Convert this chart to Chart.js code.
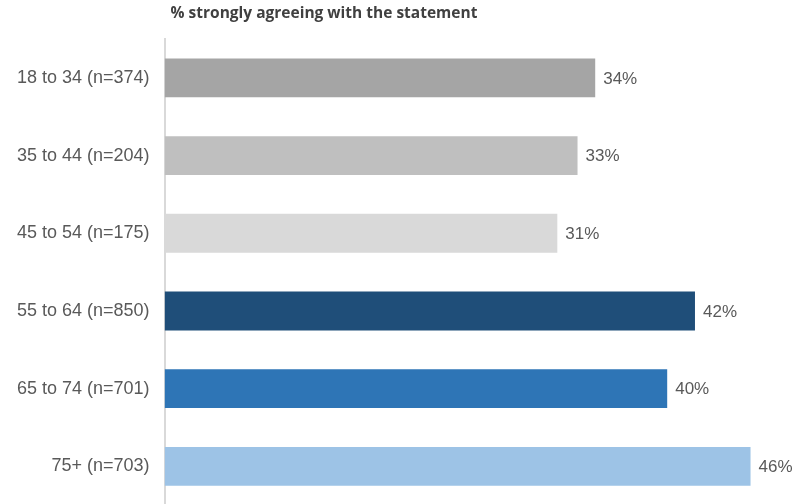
<!DOCTYPE html>
<html>
<head>
<meta charset="utf-8">
<script src="https://cdn.jsdelivr.net/npm/chart.js@4"></script>
<style>
  html, body { margin: 0; padding: 0; background: #fff; overflow: hidden; }
  #wrap { width: 796px; height: 504px; overflow: hidden; }
</style>
</head>
<body>
<div id="wrap"><canvas id="agreeChart" width="796" height="531"></canvas></div>
<script>
const ageGroups = ['18 to 34 (n=374)', '35 to 44 (n=204)', '45 to 54 (n=175)', '55 to 64 (n=850)', '65 to 74 (n=701)', '75+ (n=703)'];
const strongAgree = [34.1, 32.7, 31.1, 42.0, 39.8, 46.4];
const barColors = ['#a5a5a5', '#bfbfbf', '#d9d9d9', '#1f4e79', '#2e75b6', '#9dc3e6'];
const chartTitle = '% strongly agreeing with the statement';

// value labels at the end of each bar
const valueLabels = {
    id: 'valueLabels',
    afterDatasetsDraw(chart) {
        const ctx = chart.ctx;
        const meta = chart.getDatasetMeta(0);
        ctx.save();
        ctx.font = '17px "Liberation Sans", Arial, sans-serif';
        ctx.fillStyle = '#595959';
        ctx.textBaseline = 'middle';
        ctx.textAlign = 'left';
        meta.data.forEach((bar, i) => {
            ctx.fillText(Math.round(strongAgree[i]) + '%', bar.x + 8, bar.y + 1);
        });
        ctx.restore();
    }
};

// title sits above the bars, starting just right of the axis
const topTitle = {
    id: 'topTitle',
    afterDraw(chart) {
        const ctx = chart.ctx;
        ctx.save();
        ctx.font = 'bold 15.5px "Open Sans", sans-serif';
        ctx.fillStyle = '#404040';
        ctx.textBaseline = 'middle';
        ctx.textAlign = 'left';
        ctx.fillText(chartTitle, chart.chartArea.left + 6, 14);
        ctx.restore();
    }
};

new Chart(document.getElementById('agreeChart'), {
    type: 'bar',
    data: {
        labels: ageGroups,
        datasets: [{
            data: strongAgree,
            backgroundColor: barColors,
            barPercentage: 0.5,
            categoryPercentage: 1
        }]
    },
    options: {
        indexAxis: 'y',
        responsive: false,
        animation: false,
        layout: { padding: { top: 39, right: 0, bottom: 0, left: 2 } },
        scales: {
            x: {
                display: false,
                min: 0,
                max: 50
            },
            y: {
                grid: { display: false, drawTicks: false },
                border: { display: true, color: '#d9d9d9', width: 2 },
                ticks: {
                    color: '#595959',
                    padding: 15,
                    font: { family: '"Liberation Sans", Arial, sans-serif', size: 18 }
                }
            }
        },
        plugins: {
            legend: { display: false },
            tooltip: { enabled: false }
        }
    },
    plugins: [valueLabels, topTitle]
});
</script>
</body>
</html>
